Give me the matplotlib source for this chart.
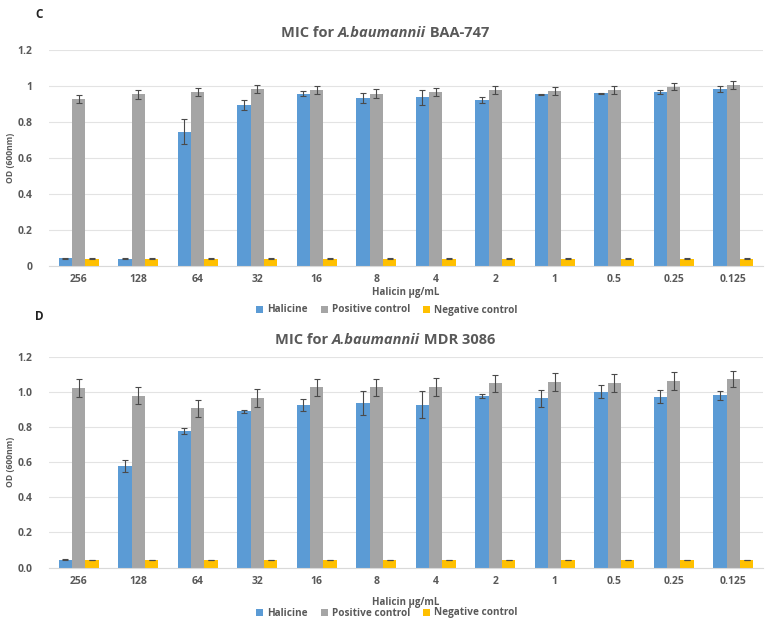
import matplotlib
matplotlib.use("Agg")
import matplotlib.pyplot as plt
import numpy as np
from matplotlib.patches import Patch

plt.rcParams['font.family'] = ['Open Sans', 'DejaVu Sans']

categories = ["256", "128", "64", "32", "16", "8", "4", "2", "1", "0.5", "0.25", "0.125"]

# Panel C: A.baumannii BAA-747
c_hal = [0.043, 0.040, 0.746, 0.894, 0.957, 0.935, 0.937, 0.922, 0.954, 0.959, 0.968, 0.981]
c_hal_err = [0.003, 0.002, 0.070, 0.030, 0.015, 0.027, 0.040, 0.018, 0.003, 0.002, 0.010, 0.017]
c_pos = [0.928, 0.954, 0.968, 0.983, 0.976, 0.957, 0.968, 0.978, 0.972, 0.976, 0.996, 1.004]
c_pos_err = [0.020, 0.024, 0.022, 0.021, 0.022, 0.024, 0.022, 0.020, 0.020, 0.022, 0.020, 0.022]
c_neg = [0.040, 0.040, 0.040, 0.040, 0.040, 0.040, 0.040, 0.040, 0.040, 0.040, 0.040, 0.040]
c_neg_err = [0.003] * 12

# Panel D: A.baumannii MDR 3086
d_hal = [0.044, 0.577, 0.777, 0.889, 0.925, 0.935, 0.927, 0.976, 0.963, 1.001, 0.973, 0.980]
d_hal_err = [0.002, 0.033, 0.017, 0.010, 0.034, 0.068, 0.075, 0.012, 0.049, 0.036, 0.036, 0.027]
d_pos = [1.022, 0.978, 0.906, 0.965, 1.026, 1.026, 1.027, 1.048, 1.056, 1.050, 1.064, 1.073]
d_pos_err = [0.051, 0.049, 0.050, 0.049, 0.049, 0.049, 0.051, 0.050, 0.051, 0.051, 0.051, 0.048]
d_neg = [0.043, 0.042, 0.042, 0.042, 0.042, 0.042, 0.043, 0.042, 0.042, 0.042, 0.042, 0.042]
d_neg_err = [0.002] * 12

series_names = ["Halicine", "Positive control", "Negative control"]
colors = ["#5B9BD5", "#A5A5A5", "#FFC000"]
TXT = "#595959"

W, H = 782, 628
fig = plt.figure(figsize=(W / 100, H / 100), dpi=100)


def px_axes(x0, y_top, x1, y_bot):
    return fig.add_axes([x0 / W, 1 - y_bot / H, (x1 - x0) / W, (y_bot - y_top) / H])


def draw_title(y_px, parts, cx_px=385, size=10.5):
    r = fig.canvas.get_renderer()
    texts = []
    widths = []
    for s, style in parts:
        t = fig.text(0, 1 - y_px / H, s, fontsize=size, fontweight='bold',
                     fontstyle=style, color=TXT, va='center', ha='left')
        bb = t.get_window_extent(renderer=r)
        texts.append(t)
        widths.append(bb.width)
    total = sum(widths)
    x = cx_px - total / 2
    for t, w in zip(texts, widths):
        t.set_x(x / W)
        x += w


def panel(y_top, y_bot, hal, hal_e, pos, pos_e, neg, neg_e, yfmt):
    ax = px_axes(49, y_top, 763, y_bot)
    x = np.arange(len(categories))
    bw = 0.224
    for off, vals, errs, col in [(-bw, hal, hal_e, colors[0]), (0, pos, pos_e, colors[1]),
                                 (bw, neg, neg_e, colors[2])]:
        ax.bar(x + off, vals, bw, color=col, zorder=2, yerr=errs,
               error_kw=dict(ecolor="#4a4a4a", elinewidth=0.8, capsize=2, capthick=0.8, zorder=3))
    ax.set_xlim(-0.5, len(categories) - 0.5)
    ax.set_ylim(0, 1.2)
    yt = np.arange(0, 1.21, 0.2)
    ax.set_yticks(yt)
    ax.set_yticklabels([yfmt(v) for v in yt])
    ax.set_xticks(x)
    ax.set_xticklabels(categories)
    for s in ['top', 'right', 'left']:
        ax.spines[s].set_visible(False)
    ax.spines['bottom'].set_color('#D9D9D9')
    ax.grid(axis='y', color='#E3E3E3', linewidth=0.8, zorder=0)
    ax.set_axisbelow(True)
    ax.tick_params(length=0, colors=TXT, labelsize=7.5)
    for lab in ax.get_xticklabels() + ax.get_yticklabels():
        lab.set_fontweight('bold')
    ax.tick_params(axis='x', pad=6)
    ax.tick_params(axis='y', pad=12)
    return ax


def fmt_c(v):
    v = round(v, 1)
    if v == 0:
        return "0"
    if v == 1:
        return "1"
    return f"{v:g}"


def fmt_d(v):
    return f"{v:.1f}"


ax1 = panel(50, 266, c_hal, c_hal_err, c_pos, c_pos_err, c_neg, c_neg_err, fmt_c)
ax2 = panel(356.7, 567.5, d_hal, d_hal_err, d_pos, d_pos_err, d_neg, d_neg_err, fmt_d)

# Panel letters
fig.text(39 / W, 1 - 15 / H, "C", fontsize=8.5, fontweight='bold', color='#222222', va='center', ha='center')
fig.text(39 / W, 1 - 316 / H, "D", fontsize=8.5, fontweight='bold', color='#222222', va='center', ha='center')

# Titles
draw_title(33, [("MIC for ", 'normal'), ("A.baumannii", 'italic'), (" BAA-747", 'normal')])
draw_title(340, [("MIC for ", 'normal'), ("A.baumannii", 'italic'), (" MDR 3086", 'normal')])

# Axis labels
for yc, yl in [(158, 292), (462, 602)]:
    fig.text(11 / W, 1 - yc / H, "OD (600nm)", rotation=90, fontsize=6.2, fontweight='bold',
             color=TXT, va='center', ha='center')
    fig.text(406 / W, 1 - yl / H, "Halicin μg/mL", fontsize=7, fontweight='bold',
             color=TXT, va='center', ha='center')

# Legends
handles = [Patch(facecolor=c, edgecolor='none') for c in colors]
for yleg in [310, 613]:
    fig.legend(handles, series_names, loc='center', bbox_to_anchor=(387 / W, 1 - yleg / H),
               ncol=3, frameon=False, handlelength=0.7, handleheight=0.7,
               handletextpad=0.4, columnspacing=1.3, labelcolor=TXT,
               borderpad=0.1, prop=dict(weight='bold', size=7.2))

fig.savefig("out.png", dpi=100, facecolor='white')
